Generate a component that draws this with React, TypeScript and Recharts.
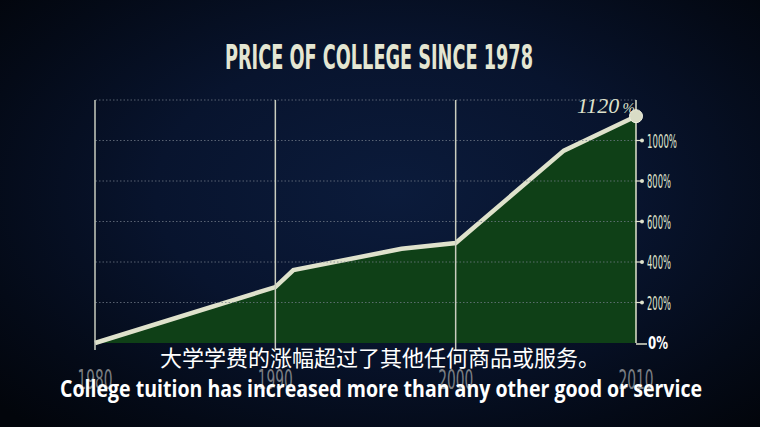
import React from "react";
import {
  AreaChart,
  Area,
  XAxis,
  YAxis,
  ReferenceLine,
  ReferenceDot,
} from "recharts";

// ── Data ───────────────────────────────────────────────────────────────────

const YEARS = [1980, 1990, 1991, 1997, 2000, 2006, 2010];
const PRICE_PCT = [0, 276, 360, 465, 494, 950, 1120];

const X_TICKS = [1980, 1990, 2000, 2010];
const Y_TICKS = [0, 200, 400, 600, 800, 1000];
const GRID_LEVELS = [200, 400, 600, 800, 1000, 1200];
const DECADE_LINES = [1980, 1990, 2000];

const TITLE = "PRICE OF COLLEGE SINCE 1978";
const SUB_ZH = "大学学费的涨幅超过了其他任何商品或服务。";
const SUB_EN = "College tuition has increased more than any other good or service";

const data = YEARS.map((year, i) => ({ year, pct: PRICE_PCT[i] }));

// ── Palette ────────────────────────────────────────────────────────────────

const CREAM = "#dfe2cc";
const GREEN = "#0f4017";
const GRID = "#737c8a";
const LABEL_GREY = "#7a7e83";
const CONDENSED = "'DejaVu Sans Condensed', 'Liberation Sans Narrow', 'DejaVu Sans', sans-serif";

// ── Tick renderers ─────────────────────────────────────────────────────────

function YearTick({ x, y, payload }: any) {
  return (
    <text
      x={x}
      y={y + 38}
      textAnchor="middle"
      fill={LABEL_GREY}
      fontFamily={CONDENSED}
      fontSize={27}
      textLength={35}
      lengthAdjust="spacingAndGlyphs"
    >
      {payload.value}
    </text>
  );
}

function PctTick({ x, y, payload }: any) {
  const label = `${payload.value}%`;
  const w = label.length * 6;
  if (payload.value === 0) {
    return (
      <g>
        <line x1={x} y1={y + 1} x2={x + 11} y2={y + 1} stroke={CREAM} strokeWidth={1.5} />
        <text x={x + 12} y={y + 6} fill="#ffffff" fontFamily={CONDENSED} fontWeight="bold" fontSize={17} textLength={20} lengthAdjust="spacingAndGlyphs">
          {label}
        </text>
      </g>
    );
  }
  return (
    <g>
      <line x1={x} y1={y} x2={x + 6} y2={y} stroke={CREAM} strokeWidth={1.2} />
      <circle cx={x + 6} cy={y} r={2} fill={CREAM} />
      <text
        x={x + 11}
        y={y + 7}
        fill={CREAM}
        fontFamily={CONDENSED}
        fontSize={19.5}
        textLength={w}
        lengthAdjust="spacingAndGlyphs"
      >
        {label}
      </text>
    </g>
  );
}

function EndLabel({ viewBox }: any) {
  const cx = viewBox.x + viewBox.width / 2;
  const cy = viewBox.y + viewBox.height / 2;
  return (
    <text x={cx - 59} y={cy - 3} fill={CREAM} fontFamily="'Liberation Serif', 'DejaVu Serif', serif" fontStyle="italic">
      <tspan fontSize={22}>1120</tspan>
      <tspan fontSize={15} dx={3}>%</tspan>
    </text>
  );
}

// ── Chart ──────────────────────────────────────────────────────────────────

export default function App() {
  return (
    <div
      style={{
        position: "relative",
        width: 760,
        height: 427,
        overflow: "hidden",
        background:
          "radial-gradient(ellipse 70% 75% at 52% 45%, #0b1b3b 0%, #08142e 45%, #040a17 80%, #02050b 100%)",
      }}
    >
      <style>{`body{margin:0}`}</style>

      <AreaChart
        width={760}
        height={427}
        data={data}
        margin={{ top: 100, left: 95, right: 64, bottom: 54 }}
      >
        <XAxis
          dataKey="year"
          type="number"
          domain={[1980, 2010]}
          ticks={X_TICKS}
          axisLine={false}
          tickLine={false}
          height={30}
          tick={<YearTick />}
        />
        <YAxis
          orientation="right"
          type="number"
          domain={[0, 1200]}
          ticks={Y_TICKS}
          axisLine={false}
          tickLine={false}
          tickSize={0}
          tickMargin={0}
          width={60}
          tick={<PctTick />}
        />
        <Area
          type="linear"
          dataKey="pct"
          stroke={CREAM}
          strokeWidth={4.5}
          fill={GREEN}
          fillOpacity={1}
          dot={false}
          activeDot={false}
          isAnimationActive={false}
        />
        {GRID_LEVELS.map((v) => (
          <ReferenceLine
            key={`g${v}`}
            y={v}
            stroke={GRID}
            strokeDasharray="1.5 2"
            strokeWidth={1}
            strokeOpacity={0.75}
          />
        ))}
        {DECADE_LINES.map((yr) => (
          <ReferenceLine
            key={`d${yr}`}
            segment={[
              { x: yr, y: -35 },
              { x: yr, y: 1200 },
            ]}
            ifOverflow="visible"
            stroke="#c9cdbf"
            strokeWidth={1.5}
          />
        ))}
        <ReferenceLine
          segment={[
            { x: 2010, y: 0 },
            { x: 2010, y: 1200 },
          ]}
          stroke={CREAM}
          strokeWidth={1.5}
        />
        <ReferenceDot
          x={2010}
          y={1120}
          r={6.5}
          fill="#d9dcc6"
          stroke="#eef0e0"
          strokeWidth={1}
          ifOverflow="visible"
          label={<EndLabel />}
        />
      </AreaChart>

      <svg width={760} height={427} style={{ position: "absolute", left: 0, top: 0, pointerEvents: "none" }}>
        <text
          x={379}
          y={69}
          textAnchor="middle"
          fill="#e4e6d2"
          fontFamily={CONDENSED}
          fontWeight="bold"
          fontSize={33}
          textLength={308}
          lengthAdjust="spacingAndGlyphs"
        >
          {TITLE}
        </text>
        <text
          x={380}
          y={366}
          textAnchor="middle"
          fill="#ffffff"
          fontFamily="'Noto Sans CJK SC', sans-serif"
          fontSize={22}
          textLength={440}
          lengthAdjust="spacingAndGlyphs"
        >
          {SUB_ZH}
        </text>
        <text
          x={381}
          y={397}
          textAnchor="middle"
          fill="#ffffff"
          fontFamily="'Open Sans', 'Noto Sans', sans-serif"
          fontWeight="bold"
          fontSize={23}
          textLength={642}
          lengthAdjust="spacingAndGlyphs"
        >
          {SUB_EN}
        </text>
      </svg>
    </div>
  );
}
